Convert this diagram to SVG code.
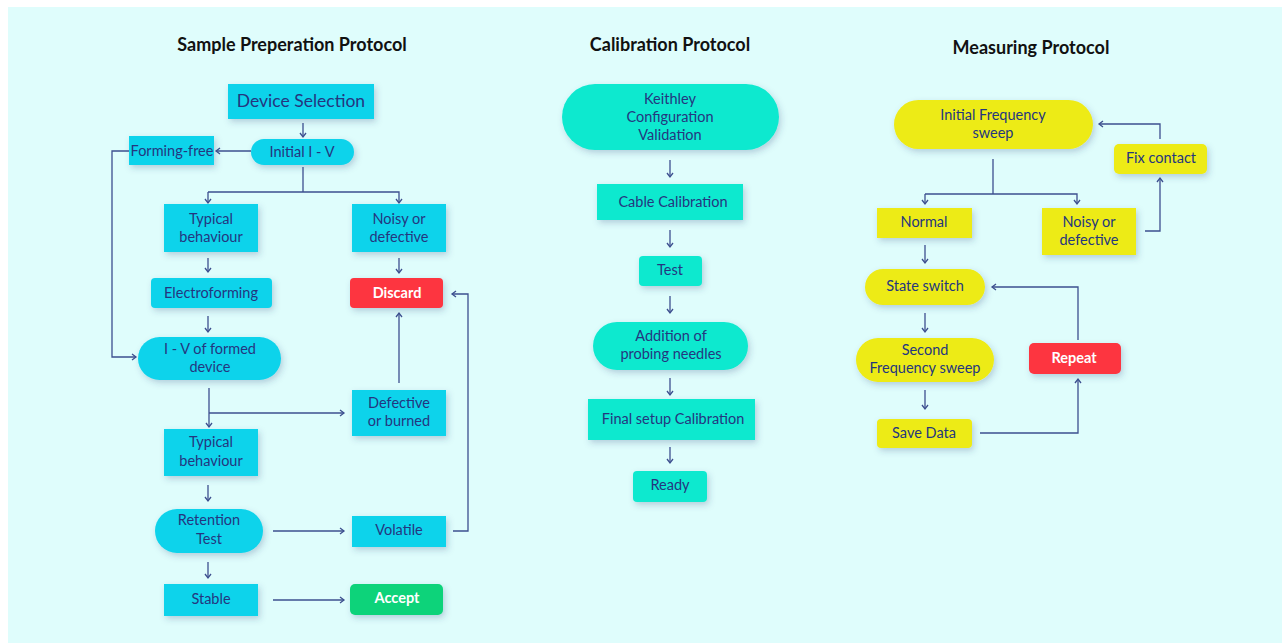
<svg xmlns="http://www.w3.org/2000/svg" width="1282" height="643" viewBox="0 0 1282 643">
<defs>
<filter id="sh" x="-20%" y="-30%" width="140%" height="170%">
<feDropShadow dx="2" dy="3" stdDeviation="3" flood-color="#2a4a7a" flood-opacity="0.25"/>
</filter>
<marker id="ah" markerUnits="userSpaceOnUse" markerWidth="10" markerHeight="10" viewBox="0 0 10 10" refX="8" refY="5" orient="auto">
<path d="M4,2 L8,5 L4,8" fill="none" stroke="#3d4f8f" stroke-width="1.3"/>
</marker>
<style>
.title{font-family:Lato,"Liberation Sans",sans-serif;font-weight:bold;font-size:18px;fill:#111;text-anchor:middle}
.t{font-family:Lato,"Liberation Sans",sans-serif;font-size:14.5px;fill:#24367f;text-anchor:middle}
.tw{font-family:Lato,"Liberation Sans",sans-serif;font-size:14.5px;font-weight:bold;fill:#fff;text-anchor:middle}
.cy{fill:#0cd3eb;filter:url(#sh)}
.tl{fill:#0fe9cf;filter:url(#sh)}
.ye{fill:#edeb12;filter:url(#sh)}
.rd{fill:#fd3440;filter:url(#sh)}
.gr{fill:#0fd37a;filter:url(#sh)}
.c{fill:none;stroke:#3d4f8f;stroke-width:1.3}
.ca{fill:none;stroke:#3d4f8f;stroke-width:1.3;marker-end:url(#ah)}
</style>
</defs>
<rect x="8" y="7" width="1274" height="636" fill="#dffdfc"/>

<text class="title" x="292" y="51">Sample Preperation Protocol</text>
<text class="title" x="670" y="51">Calibration Protocol</text>
<text class="title" x="1031" y="54">Measuring Protocol</text>

<g id="connectors">
<path class="ca" d="M303,123 V137"/>
<path class="ca" d="M251,151 H216"/>
<path class="ca" d="M129,151 H112 V357 H136"/>
<path class="c" d="M303,167 V192"/>
<path class="ca" d="M208,192 H399 V203"/>
<path class="ca" d="M208,192 V203"/>
<path class="ca" d="M208,258 V272"/>
<path class="ca" d="M399,258 V273"/>
<path class="ca" d="M208,316 V332"/>
<path class="ca" d="M209,388 V427"/>
<path class="ca" d="M209,413 H344"/>
<path class="ca" d="M399,383 V313"/>
<path class="ca" d="M208,485 V501"/>
<path class="ca" d="M273,531 H344"/>
<path class="ca" d="M453,531 H468 V294 H452"/>
<path class="ca" d="M208,562 V578"/>
<path class="ca" d="M273,600 H344"/>
<path class="ca" d="M670,160 V177"/>
<path class="ca" d="M670,230 V247"/>
<path class="ca" d="M670,296 V313"/>
<path class="ca" d="M670,378 V395"/>
<path class="ca" d="M670,447 V463"/>
<path class="c" d="M993,159 V194"/>
<path class="ca" d="M925,194 V204"/>
<path class="ca" d="M925,194 H1077 V204"/>
<path class="ca" d="M1145,231 H1160 V178"/>
<path class="ca" d="M1160,139 V124 H1099"/>
<path class="ca" d="M925,245 V263"/>
<path class="ca" d="M925,313 V332"/>
<path class="ca" d="M925,390 V409"/>
<path class="ca" d="M980,433 H1078 V379"/>
<path class="ca" d="M1078,340 V287 H992"/>
</g>

<g id="device-selection"><rect class="cy" x="228" y="84" width="146" height="35"/><text class="t" x="301" y="107" style="font-size:17.5px">Device Selection</text></g>
<g id="initial-iv"><rect class="cy" x="251" y="139" width="103" height="26" rx="13"/><text class="t" x="302" y="157">Initial I - V</text></g>
<g id="forming-free"><rect class="cy" x="129" y="136" width="85" height="29"/><text class="t" x="172" y="156">Forming-free</text></g>
<g id="typical-1"><rect class="cy" x="164" y="204" width="94" height="48"/><text class="t" x="211" y="224">Typical</text><text class="t" x="211" y="242">behaviour</text></g>
<g id="noisy-1"><rect class="cy" x="352" y="204" width="94" height="48"/><text class="t" x="399" y="224">Noisy or</text><text class="t" x="399" y="242">defective</text></g>
<g id="electroforming"><rect class="cy" x="151" y="278" width="121" height="30" rx="4"/><text class="t" x="211" y="298">Electroforming</text></g>
<g id="discard"><rect class="rd" x="350" y="278" width="93" height="30" rx="4"/><text class="tw" x="397" y="298">Discard</text></g>
<g id="iv-formed"><rect class="cy" x="138" y="337" width="143" height="43" rx="21.5"/><text class="t" x="210" y="354">I - V of formed</text><text class="t" x="210" y="372">device</text></g>
<g id="defective-burned"><rect class="cy" x="352" y="390" width="94" height="46"/><text class="t" x="399" y="408">Defective</text><text class="t" x="399" y="426">or burned</text></g>
<g id="typical-2"><rect class="cy" x="164" y="429" width="94" height="47"/><text class="t" x="211" y="447">Typical</text><text class="t" x="211" y="466">behaviour</text></g>
<g id="retention"><rect class="cy" x="155" y="509" width="108" height="44" rx="22"/><text class="t" x="209" y="525">Retention</text><text class="t" x="209" y="544">Test</text></g>
<g id="volatile"><rect class="cy" x="352" y="516" width="94" height="31"/><text class="t" x="399" y="535">Volatile</text></g>
<g id="stable"><rect class="cy" x="164" y="584" width="94" height="32"/><text class="t" x="211" y="604">Stable</text></g>
<g id="accept"><rect class="gr" x="350" y="584" width="93" height="31" rx="5"/><text class="tw" x="397" y="603">Accept</text></g>

<g id="keithley"><rect class="tl" x="562" y="84" width="217" height="66" rx="33"/><text class="t" x="670" y="104">Keithley</text><text class="t" x="670" y="122">Configuration</text><text class="t" x="670" y="140">Validation</text></g>
<g id="cable-calibration"><rect class="tl" x="597" y="184" width="146" height="36"/><text class="t" x="673" y="207">Cable Calibration</text></g>
<g id="test"><rect class="tl" x="639" y="256" width="63" height="30" rx="4"/><text class="t" x="670" y="275">Test</text></g>
<g id="probing"><rect class="tl" x="593" y="322" width="155" height="48" rx="24"/><text class="t" x="671" y="341">Addition of</text><text class="t" x="671" y="359">probing needles</text></g>
<g id="final-setup"><rect class="tl" x="588" y="399" width="167" height="41"/><text class="t" x="673" y="424">Final setup Calibration</text></g>
<g id="ready"><rect class="tl" x="633" y="471" width="74" height="31" rx="4"/><text class="t" x="670" y="490">Ready</text></g>

<g id="initial-freq"><rect class="ye" x="894" y="100" width="199" height="49" rx="24.5"/><text class="t" x="993" y="120">Initial Frequency</text><text class="t" x="993" y="138">sweep</text></g>
<g id="fix-contact"><rect class="ye" x="1114" y="144" width="93" height="30" rx="5"/><text class="t" x="1161" y="163">Fix contact</text></g>
<g id="normal"><rect class="ye" x="877" y="208" width="95" height="30"/><text class="t" x="924" y="227">Normal</text></g>
<g id="noisy-2"><rect class="ye" x="1042" y="208" width="94" height="47"/><text class="t" x="1089" y="227">Noisy or</text><text class="t" x="1089" y="245">defective</text></g>
<g id="state-switch"><rect class="ye" x="865" y="269" width="120" height="36" rx="18"/><text class="t" x="925" y="291">State switch</text></g>
<g id="second-freq"><rect class="ye" x="856" y="338" width="138" height="44" rx="22"/><text class="t" x="925" y="355">Second</text><text class="t" x="925" y="373">Frequency sweep</text></g>
<g id="save-data"><rect class="ye" x="877" y="419" width="95" height="29" rx="4"/><text class="t" x="924" y="438">Save Data</text></g>
<g id="repeat"><rect class="rd" x="1029" y="343" width="92" height="31" rx="5"/><text class="tw" x="1074" y="363">Repeat</text></g>
</svg>
